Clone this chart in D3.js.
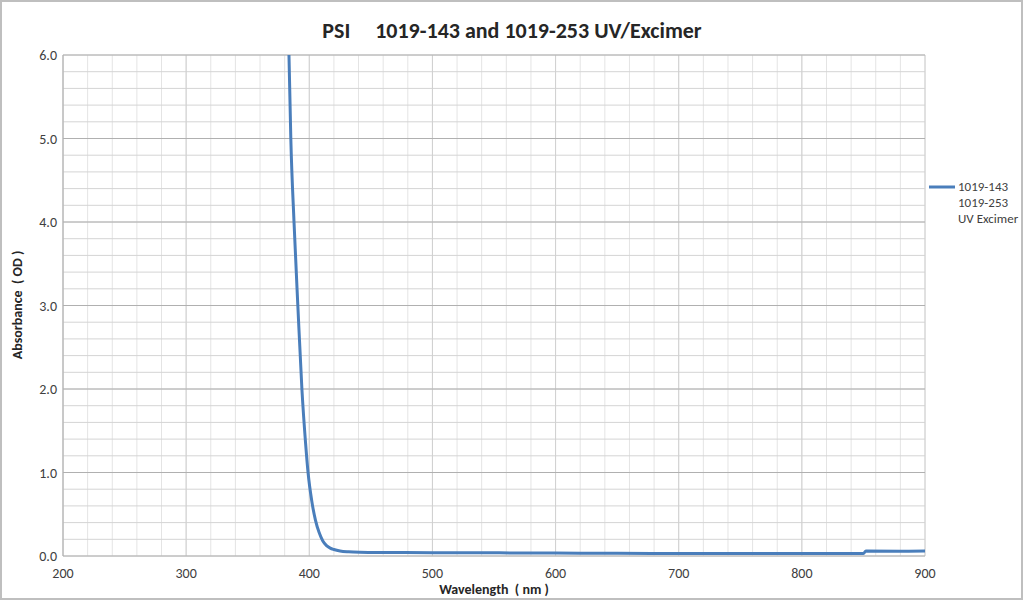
<!DOCTYPE html>
<html><head><meta charset="utf-8">
<script src="https://cdn.jsdelivr.net/npm/d3@7"></script>
<style>body{margin:0;background:#fff;font-family:Calibri,Carlito,"Open Sans",sans-serif;}</style>
</head><body><svg id="c" width="1024" height="601"></svg>
<script>
const wavelength = [383.5, 385, 387.6, 390.7, 394, 397, 399, 402, 405, 408, 411, 414, 417, 420, 425, 432, 441, 460, 500, 550, 600, 650, 700, 750, 800, 848, 850, 852, 880, 900];
const absorbance = [6.0, 5.0, 4.0, 3.0, 2.0, 1.35, 1.0, 0.66, 0.43, 0.28, 0.18, 0.125, 0.095, 0.078, 0.06, 0.05, 0.045, 0.042, 0.04, 0.038, 0.035, 0.032, 0.03, 0.03, 0.03, 0.03, 0.03, 0.06, 0.058, 0.06];
const xTicks = [200, 300, 400, 500, 600, 700, 800, 900];
const yTicks = [0, 1, 2, 3, 4, 5, 6];
const legendLines = ["1019-143", "1019-253", "UV Excimer"];

const svg = d3.select("#c");
const m = {l: 63, r: 925, t: 55, b: 556};
const x = d3.scaleLinear().domain([200, 900]).range([m.l, m.r]);
const y = d3.scaleLinear().domain([0, 6]).range([m.b, m.t]);

svg.append("rect").attr("x", 1).attr("y", 1).attr("width", 1021).attr("height", 598)
  .attr("fill", "#fff").attr("stroke", "#bfbfbf").attr("stroke-width", 2);

// minor grid
svg.append("g").selectAll("line").data(d3.range(200, 901, 20)).join("line")
  .attr("x1", d => x(d)).attr("x2", d => x(d)).attr("y1", m.t).attr("y2", m.b)
  .attr("stroke", "#e4e4e4");
svg.append("g").selectAll("line").data(d3.range(0, 6.01, 0.2)).join("line")
  .attr("y1", d => y(d)).attr("y2", d => y(d)).attr("x1", m.l).attr("x2", m.r)
  .attr("stroke", "#d4d4d4");
// major grid
svg.append("g").selectAll("line").data(xTicks).join("line")
  .attr("x1", d => x(d)).attr("x2", d => x(d)).attr("y1", m.t).attr("y2", m.b)
  .attr("stroke", "#d0d0d0");
svg.append("g").selectAll("line").data(yTicks).join("line")
  .attr("y1", d => y(d)).attr("y2", d => y(d)).attr("x1", m.l).attr("x2", m.r)
  .attr("stroke", "#b0b0b0");
svg.append("line").attr("x1", m.l).attr("x2", m.l).attr("y1", m.t).attr("y2", m.b).attr("stroke", "#b0b0b0");

svg.append("g").selectAll("text").data(xTicks).join("text")
  .attr("x", d => x(d)).attr("y", m.b + 22).attr("text-anchor", "middle")
  .attr("font-size", 14).attr("fill", "#404040").text(d => d);
svg.append("g").selectAll("text").data(yTicks).join("text")
  .attr("x", m.l - 6).attr("y", d => y(d) + 5).attr("text-anchor", "end")
  .attr("font-size", 14).attr("fill", "#404040").text(d => d.toFixed(1));

svg.append("path").datum(d3.zip(wavelength, absorbance))
  .attr("fill", "none").attr("stroke", "#4a7ebb").attr("stroke-width", 3)
  .attr("d", d3.line().x(d => x(d[0])).y(d => y(d[1])).curve(d3.curveMonotoneX));

svg.append("text").attr("x", 512).attr("y", 38).attr("text-anchor", "middle")
  .attr("font-size", 22).attr("font-weight", "bold").attr("fill", "#262626")
  .attr("xml:space", "preserve").text("PSI     1019-143 and 1019-253 UV/Excimer");
svg.append("text").attr("x", 494).attr("y", 594).attr("text-anchor", "middle")
  .attr("font-size", 14).attr("font-weight", "bold").attr("fill", "#262626")
  .attr("xml:space", "preserve").text("Wavelength  ( nm )");
svg.append("text").attr("transform", "translate(22,305) rotate(-90)").attr("text-anchor", "middle")
  .attr("font-size", 14).attr("font-weight", "bold").attr("fill", "#262626")
  .attr("xml:space", "preserve").text("Absorbance  ( OD )");

svg.append("line").attr("x1", 929).attr("x2", 955).attr("y1", 187).attr("y2", 187)
  .attr("stroke", "#4a7ebb").attr("stroke-width", 3);
svg.append("g").selectAll("text").data(legendLines).join("text")
  .attr("x", 958).attr("y", (d, i) => 191 + i * 16)
  .attr("font-size", 13).attr("fill", "#404040").text(d => d);
</script></body></html>
